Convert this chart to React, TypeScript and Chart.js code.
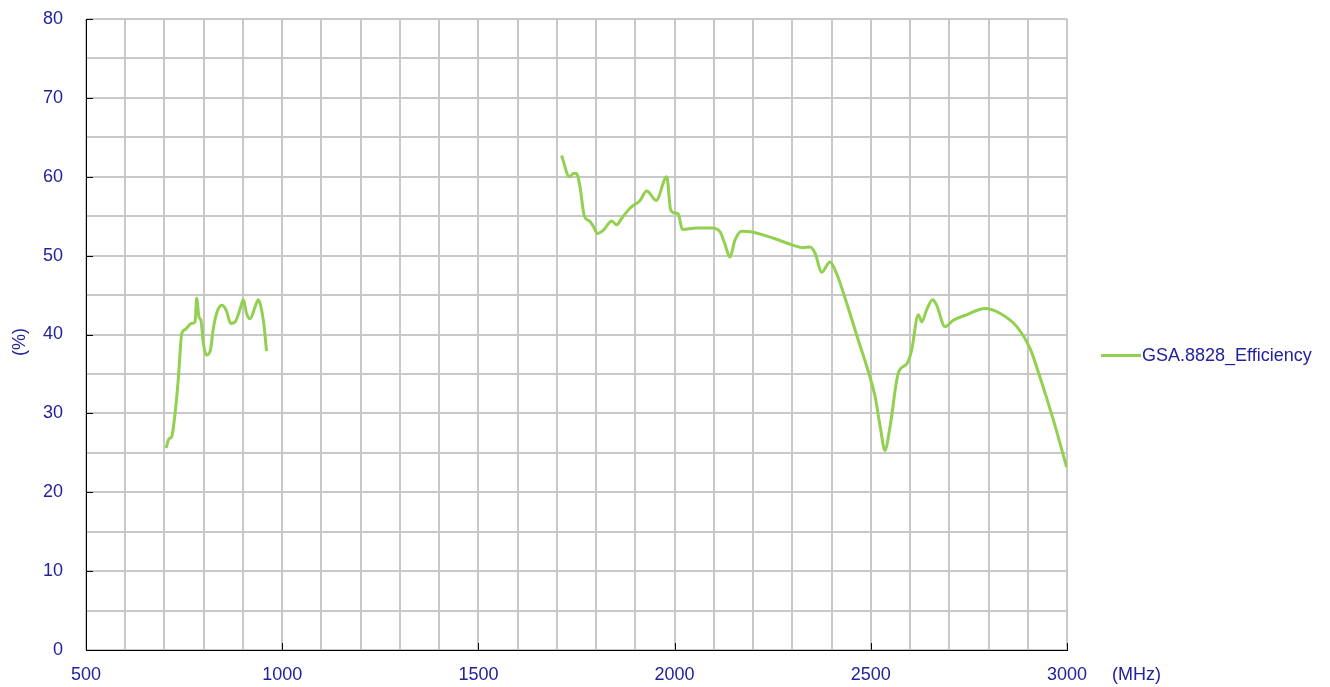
import React, { useEffect, useRef } from "react";
import { Chart, registerables } from "chart.js";

Chart.register(...registerables);

const lowBandFreq = [704, 712, 718, 727, 735, 744, 752, 769, 778, 782, 788, 793, 799, 807, 817, 824, 833, 846, 857, 869, 880, 892, 901, 909, 918, 931, 939, 945, 954, 960];
const lowBandEff = [25.6, 26.8, 27.0, 30.0, 34.2, 40.1, 40.6, 41.4, 41.6, 44.6, 42.2, 41.8, 38.9, 37.4, 38.0, 40.6, 42.7, 43.7, 43.1, 41.4, 41.6, 43.1, 44.4, 42.7, 42.0, 43.5, 44.4, 43.7, 41.0, 37.9];

const highBandFreq = [1712, 1732, 1742, 1750, 1759, 1770, 1783, 1793, 1803, 1818, 1840, 1852, 1865, 1886, 1912, 1929, 1953, 1980, 1990, 2001, 2009, 2020, 2056, 2095, 2116, 2128, 2141, 2154, 2171, 2197, 2252, 2303, 2328, 2345, 2358, 2375, 2396, 2413, 2439, 2468, 2498, 2511, 2524, 2536, 2549, 2570, 2592, 2604, 2621, 2630, 2642, 2658, 2668, 2689, 2710, 2744, 2791, 2829, 2872, 2906, 2931, 2965, 2999];
const highBandEff = [62.7, 60.0, 60.4, 60.4, 58.7, 55.0, 54.4, 53.7, 52.8, 53.2, 54.4, 53.9, 54.7, 56.0, 57.0, 58.2, 57.0, 60.0, 55.8, 55.4, 55.3, 53.3, 53.5, 53.5, 53.0, 51.5, 49.8, 52.0, 53.1, 53.0, 52.2, 51.3, 51.0, 51.1, 50.3, 47.9, 49.2, 47.7, 43.9, 39.3, 34.6, 32.1, 28.3, 25.3, 28.3, 35.1, 36.3, 38.0, 42.5, 41.6, 43.1, 44.4, 43.7, 41.0, 41.8, 42.5, 43.3, 42.7, 41.0, 38.2, 34.6, 29.2, 23.2];

const seriesName = "GSA.8828_Efficiency";
const xTitle = "(MHz)";
const yTitle = "(%)";

const TEXT = "#22229c";
const LINE = "#92d050";
const FONT = "'Liberation Sans', Arial, sans-serif";
const FS = 18;

export default function App() {
  const ref = useRef<HTMLCanvasElement | null>(null);

  useEffect(() => {
    if (!ref.current) return;
    const points: { x: number; y: number | null }[] = [];
    lowBandFreq.forEach((f, i) => points.push({ x: f, y: lowBandEff[i] }));
    points.push({ x: 1300, y: null });
    highBandFreq.forEach((f, i) => points.push({ x: f, y: highBandEff[i] }));

    const extras = {
      id: "extras",
      afterDraw(chart: any) {
        const ctx = chart.ctx;
        const xs = chart.scales.x;
        const ys = chart.scales.y;
        const area = chart.chartArea;
        ctx.save();
        ctx.strokeStyle = "#000";
        ctx.lineWidth = 1;
        for (let v = 10; v <= 80; v += 10) {
          const y = Math.round(ys.getPixelForValue(v)) + 0.5;
          ctx.beginPath();
          ctx.moveTo(area.left, y);
          ctx.lineTo(area.left + 7, y);
          ctx.stroke();
        }
        for (let v = 1000; v <= 3000; v += 500) {
          const x = Math.round(xs.getPixelForValue(v)) + 0.5;
          ctx.beginPath();
          ctx.moveTo(x, area.bottom);
          ctx.lineTo(x, area.bottom - 7);
          ctx.stroke();
        }
        ctx.fillStyle = TEXT;
        ctx.font = `${FS}px ${FONT}`;
        ctx.textAlign = "left";
        ctx.textBaseline = "middle";
        // x unit
        ctx.fillText(xTitle, area.right + 45, area.bottom + 25);
        // legend
        const ly = 355.5;
        ctx.strokeStyle = LINE;
        ctx.lineWidth = 3;
        ctx.beginPath();
        ctx.moveTo(area.right + 34, ly);
        ctx.lineTo(area.right + 74, ly);
        ctx.stroke();
        ctx.fillText(seriesName, area.right + 75, ly + 1);
        // y title
        ctx.translate(20, 342);
        ctx.rotate(-Math.PI / 2);
        ctx.textAlign = "center";
        ctx.fillText(yTitle, 0, 0);
        ctx.restore();
      },
    };

    const chart = new Chart(ref.current, {
      type: "line",
      data: {
        datasets: [
          {
            label: seriesName,
            data: points as any,
            borderColor: LINE,
            backgroundColor: LINE,
            borderWidth: 3,
            pointRadius: 0,
            cubicInterpolationMode: "monotone",
            spanGaps: false,
          },
        ],
      },
      options: {
        animation: false,
        responsive: true,
        maintainAspectRatio: false,
        layout: { padding: { top: 19, left: 0, right: 263, bottom: 0 } },
        plugins: {
          tooltip: { enabled: false },
          legend: { display: false },
        },
        scales: {
          x: {
            type: "linear",
            min: 500,
            max: 3000,
            afterFit: (s: any) => {
              s.height = 37;
              s.paddingLeft = 0;
              s.paddingRight = 0;
            },
            grid: { color: "#c8c8c8", lineWidth: 2, drawTicks: false },
            border: { display: true, color: "#000", width: 1 },
            ticks: {
              stepSize: 100,
              autoSkip: false,
              maxRotation: 0,
              padding: 14,
              color: TEXT,
              font: { family: FONT, size: FS },
              callback: (v: any) => (Number(v) % 500 === 0 ? String(v) : ""),
            },
          },
          y: {
            min: 0,
            max: 80,
            afterFit: (s: any) => {
              s.width = 86;
              s.paddingTop = 0;
              s.paddingBottom = 0;
            },
            grid: { color: "#c8c8c8", lineWidth: 2, drawTicks: false },
            border: { display: true, color: "#000", width: 1 },
            ticks: {
              stepSize: 5,
              autoSkip: false,
              padding: 23,
              color: TEXT,
              font: { family: FONT, size: FS },
              callback: (v: any) => (Number(v) % 10 === 0 ? String(v) : ""),
            },
          },
        },
      },
      plugins: [extras],
    });
    return () => chart.destroy();
  }, []);

  return (
    <div style={{ position: "absolute", left: 0, top: 0, width: 1330, height: 687, background: "#fff" }}>
      <canvas ref={ref} />
    </div>
  );
}
